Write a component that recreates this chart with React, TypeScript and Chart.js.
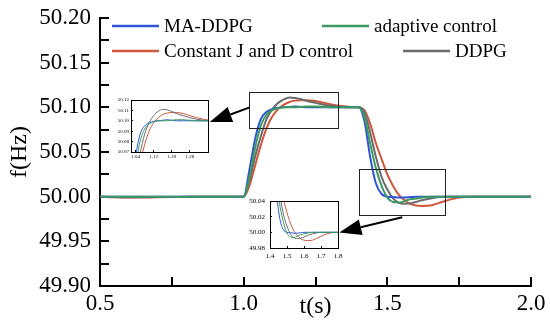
import React, { useEffect, useRef } from "react";
import { Chart, registerables } from "chart.js";

Chart.register(...registerables);

// ---------------- data ----------------
const times = [
  0.5, 0.55, 0.6, 0.7, 0.8, 0.9,
  1.0, 1.02, 1.04, 1.06, 1.08,
  1.10, 1.12, 1.14, 1.16, 1.18,
  1.20, 1.22, 1.25, 1.28, 1.31,
  1.34, 1.37, 1.40, 1.42, 1.44,
  1.46, 1.48, 1.50, 1.52, 1.54,
  1.56, 1.58, 1.60, 1.62, 1.65,
  1.68, 1.71, 1.75, 1.80, 1.90,
  2.00,
];

const maDdpg = [
  50.0, 50.0, 50.0, 50.0, 50.0, 50.0,
  50.0, 50.03, 50.065, 50.087, 50.095,
  50.098, 50.0995, 50.1, 50.1005, 50.101,
  50.1005, 50.1, 50.1, 50.1, 50.1,
  50.1, 50.1, 50.1, 50.085, 50.045,
  50.015, 50.003, 50.0, 49.9995, 49.999,
  49.999, 49.9995, 50.0, 50.0, 50.0,
  50.0, 50.0, 50.0, 50.0, 50.0,
  50.0,
];

const adaptiveControl = [
  50.0, 50.0, 50.0, 50.0, 50.0, 50.0,
  50.0, 50.022, 50.055, 50.08, 50.092,
  50.097, 50.099, 50.1, 50.1, 50.1,
  50.1005, 50.101, 50.101, 50.1005, 50.1,
  50.1, 50.1, 50.1, 50.09, 50.06,
  50.032, 50.012, 49.999, 49.994, 49.9935,
  49.995, 49.997, 49.998, 49.999, 50.0,
  50.0, 50.0, 50.0, 50.0, 50.0,
  50.0,
];

const constantJD = [
  50.0, 49.9993, 49.999, 49.9993, 49.9997, 50.0,
  50.0, 50.012, 50.035, 50.058, 50.077,
  50.09, 50.098, 50.103, 50.106, 50.1075,
  50.108, 50.108, 50.107, 50.105, 50.103,
  50.1015, 50.1005, 50.1, 50.097, 50.082,
  50.06, 50.042, 50.025, 50.012, 50.002,
  49.996, 49.992, 49.99, 49.9895, 49.99,
  49.993, 49.996, 49.999, 50.0, 50.0,
  50.0,
];

const ddpg = [
  50.0, 49.9995, 49.9993, 49.9995, 50.0, 50.0,
  50.0, 50.018, 50.045, 50.068, 50.087,
  50.098, 50.105, 50.109, 50.111, 50.1105,
  50.109, 50.107, 50.105, 50.103, 50.1015,
  50.1005, 50.1, 50.1, 50.095, 50.072,
  50.045, 50.022, 50.008, 49.998, 49.993,
  49.992, 49.9925, 49.994, 49.996, 49.998,
  49.9995, 50.0, 50.0, 50.0, 50.0,
  50.0,
];

const seriesNames = ["MA-DDPG", "adaptive control", "Constant J and D control", "DDPG"];
const seriesValues = [maDdpg, adaptiveControl, constantJD, ddpg];
const seriesColors = ["#2f54d8", "#3c9a5f", "#d0563c", "#6b6b6b"];
const seriesOrder = [1, 0, 3, 2];

// main axis ticks
const xTicks = [0.5, 0.75, 1.0, 1.25, 1.5, 1.75, 2.0];
const xLabelTicks = [0.5, 1.0, 1.5, 2.0];
const yTicks = [49.9, 49.925, 49.95, 49.975, 50.0, 50.025, 50.05, 50.075, 50.1, 50.125, 50.15, 50.175, 50.2];
const yLabelTicks = [49.9, 49.95, 50.0, 50.05, 50.1, 50.15, 50.2];

// inset axis ticks
const inset1XTicks = [1.04, 1.12, 1.2, 1.28];
const inset1YTicks = [50.07, 50.08, 50.09, 50.1, 50.11, 50.12];
const inset2XTicks = [1.4, 1.5, 1.6, 1.7, 1.8];
const inset2YTicks = [49.98, 50.0, 50.02, 50.04];

// annotation boxes / arrows (data coordinates)
const zoomBox1 = { t0: 1.017, t1: 1.33, f0: 50.077, f1: 50.117 };
const zoomBox2 = { t0: 1.4, t1: 1.7, f0: 49.979, f1: 50.031 };
const arrow1 = { tFrom: 1.021, fFrom: 50.1, tTo: 0.882, fTo: 50.0835 };
const arrow2 = { tFrom: 1.552, fFrom: 49.977, tTo: 1.333, fTo: 49.96 };

// ---------------- helpers ----------------
const FONT = "'Liberation Serif', 'Times New Roman', serif";
Chart.defaults.font.family = FONT;
Chart.defaults.color = "#000";

const inList = (v: number, list: number[]) => list.some((l) => Math.abs(l - v) < 1e-6);

function makeDatasets(lw: number) {
  return seriesNames.map((name, i) => ({
    label: name,
    data: times.map((t, k) => ({ x: t, y: seriesValues[i][k] })),
    borderColor: seriesColors[i],
    backgroundColor: seriesColors[i],
    borderWidth: lw,
    pointRadius: 0,
    fill: false,
    cubicInterpolationMode: "monotone" as const,
    order: seriesOrder[i],
  }));
}

function drawArrow(ctx: CanvasRenderingContext2D, x1: number, y1: number, x2: number, y2: number, headLen: number, headW: number) {
  const ang = Math.atan2(y2 - y1, x2 - x1);
  const bx = x2 - headLen * Math.cos(ang);
  const by = y2 - headLen * Math.sin(ang);
  ctx.beginPath();
  ctx.moveTo(x1, y1);
  ctx.lineTo(bx, by);
  ctx.lineWidth = 2;
  ctx.stroke();
  ctx.beginPath();
  ctx.moveTo(x2, y2);
  ctx.lineTo(bx + headW * Math.sin(ang), by - headW * Math.cos(ang));
  ctx.lineTo(bx - headW * Math.sin(ang), by + headW * Math.cos(ang));
  ctx.closePath();
  ctx.fill();
}

const zeroXPad = (s: any) => { s.paddingLeft = 0; s.paddingRight = 0; };
const zeroYPad = (s: any) => { s.paddingTop = 0; s.paddingBottom = 0; };

const mainOverlay = {
  id: "mainOverlay",
  afterDraw(chart: any) {
    const ctx = chart.ctx as CanvasRenderingContext2D;
    const xs = chart.scales.x;
    const ys = chart.scales.y;
    ctx.save();
    ctx.strokeStyle = "#222";
    ctx.fillStyle = "#000";
    ctx.lineWidth = 1;
    for (const b of [zoomBox1, zoomBox2]) {
      const x0 = Math.round(xs.getPixelForValue(b.t0)) + 0.5;
      const x1 = Math.round(xs.getPixelForValue(b.t1)) + 0.5;
      const y0 = Math.round(ys.getPixelForValue(b.f1)) + 0.5;
      const y1 = Math.round(ys.getPixelForValue(b.f0)) + 0.5;
      ctx.strokeRect(x0, y0, x1 - x0, y1 - y0);
    }
    ctx.strokeStyle = "#000";
    for (const a of [arrow1, arrow2]) {
      drawArrow(
        ctx,
        xs.getPixelForValue(a.tFrom), ys.getPixelForValue(a.fFrom),
        xs.getPixelForValue(a.tTo), ys.getPixelForValue(a.fTo),
        22, 8
      );
    }
    // legend
    const L = chart.chartArea.left;
    const T = chart.chartArea.top;
    const items = [
      { i: 0, x: 12, y: 8 },
      { i: 1, x: 222, y: 8 },
      { i: 2, x: 12, y: 33 },
      { i: 3, x: 303, y: 33 },
    ];
    ctx.font = `19px ${FONT}`;
    ctx.textBaseline = "middle";
    ctx.textAlign = "left";
    for (const it of items) {
      ctx.strokeStyle = seriesColors[it.i];
      ctx.lineWidth = 2.5;
      ctx.beginPath();
      ctx.moveTo(L + it.x, T + it.y);
      ctx.lineTo(L + it.x + 47, T + it.y);
      ctx.stroke();
      ctx.fillStyle = "#000";
      ctx.fillText(seriesNames[it.i], L + it.x + 52, T + it.y + 1);
    }
    ctx.restore();
  },
};

const insetFrame = {
  id: "insetFrame",
  afterDraw(chart: any) {
    const { left, right, top, bottom } = chart.chartArea;
    const ctx = chart.ctx as CanvasRenderingContext2D;
    ctx.save();
    ctx.strokeStyle = "#000";
    ctx.lineWidth = 1;
    ctx.strokeRect(Math.round(left) + 0.5, Math.round(top) + 0.5, Math.round(right - left), Math.round(bottom - top));
    ctx.restore();
  },
};

function insetConfig(opts: {
  xMin: number; xMax: number; yMin: number; yMax: number;
  xT: number[]; yT: number[]; xDigits: number;
  font: number; yWidth: number; xHeight: number; padRight: number; padTop: number;
  yPad: number; xPad: number;
}) {
  return {
    type: "line" as const,
    data: { datasets: makeDatasets(1) },
    options: {
      responsive: false,
      animation: false as const,
      devicePixelRatio: 1,
      events: [],
      layout: { padding: { left: 0, right: opts.padRight, top: opts.padTop, bottom: 0 } },
      plugins: { legend: { display: false }, tooltip: { enabled: false } },
      scales: {
        x: {
          type: "linear" as const,
          min: opts.xMin,
          max: opts.xMax,
          afterBuildTicks: (s: any) => { s.ticks = opts.xT.map((v) => ({ value: v })); },
          afterFit: (s: any) => { s.height = opts.xHeight; zeroXPad(s); },
          ticks: {
            callback: (v: any) => Number(v).toFixed(opts.xDigits),
            font: { size: opts.font },
            color: "#000",
            padding: opts.xPad,
            maxRotation: 0,
            autoSkip: false,
          },
          grid: { drawOnChartArea: false, drawTicks: true, tickLength: -2, color: "#000", lineWidth: 1 },
          border: { display: true, color: "#000", width: 1 },
        },
        y: {
          type: "linear" as const,
          min: opts.yMin,
          max: opts.yMax,
          afterBuildTicks: (s: any) => { s.ticks = opts.yT.map((v) => ({ value: v })); },
          afterFit: (s: any) => { s.width = opts.yWidth; zeroYPad(s); },
          ticks: {
            callback: (v: any) => Number(v).toFixed(2),
            font: { size: opts.font },
            color: "#000",
            padding: opts.yPad,
            autoSkip: false,
          },
          grid: { drawOnChartArea: false, drawTicks: true, tickLength: -2, color: "#000", lineWidth: 1 },
          border: { display: true, color: "#000", width: 1 },
        },
      },
    },
    plugins: [insetFrame],
  };
}

export default function App() {
  const mainRef = useRef<HTMLCanvasElement>(null);
  const in1Ref = useRef<HTMLCanvasElement>(null);
  const in2Ref = useRef<HTMLCanvasElement>(null);

  useEffect(() => {
    const main = new Chart(mainRef.current as HTMLCanvasElement, {
      type: "line",
      data: { datasets: makeDatasets(2) as any },
      options: {
        responsive: false,
        animation: false,
        devicePixelRatio: 1,
        events: [],
        layout: { padding: { left: 0, right: 19, top: 18, bottom: 0 } },
        plugins: { legend: { display: false }, tooltip: { enabled: false } },
        scales: {
          x: {
            type: "linear",
            min: 0.5,
            max: 2.0,
            afterBuildTicks: (s: any) => { s.ticks = xTicks.map((v) => ({ value: v })); },
            afterFit: (s: any) => { s.height = 41; zeroXPad(s); },
            ticks: {
              callback: (v: any) => (inList(Number(v), xLabelTicks) ? Number(v).toFixed(1) : ""),
              font: { size: 23 },
              color: "#000",
              padding: 13,
              maxRotation: 0,
              autoSkip: false,
            },
            grid: { drawOnChartArea: false, drawTicks: true, tickLength: -9, color: "#000", lineWidth: 2 },
            border: { display: true, color: "#000", width: 2 },
            title: { display: true, text: "t(s)", font: { size: 24 }, color: "#000", padding: { top: 0, bottom: 6 } },
          },
          y: {
            type: "linear",
            min: 49.9,
            max: 50.2,
            afterBuildTicks: (s: any) => { s.ticks = yTicks.map((v) => ({ value: v })); },
            afterFit: (s: any) => { s.width = 100; zeroYPad(s); },
            ticks: {
              callback: (v: any) => (inList(Number(v), yLabelTicks) ? Number(v).toFixed(2) : ""),
              font: { size: 23 },
              color: "#000",
              padding: 18,
              autoSkip: false,
            },
            grid: { drawOnChartArea: false, drawTicks: true, tickLength: -9, color: "#000", lineWidth: 2 },
            border: { display: true, color: "#000", width: 2 },
            title: { display: true, text: "f(Hz)", font: { size: 24 }, color: "#000", padding: { top: 5, bottom: 0 } },
          },
        },
      } as any,
      plugins: [mainOverlay],
    });

    const in1 = new Chart(
      in1Ref.current as HTMLCanvasElement,
      insetConfig({
        xMin: 1.02, xMax: 1.36, yMin: 50.07, yMax: 50.12,
        xT: inset1XTicks, yT: inset1YTicks, xDigits: 2,
        font: 5, yWidth: 36, xHeight: 13, padRight: 7, padTop: 7, yPad: 4, xPad: 4,
      }) as any
    );
    const in2 = new Chart(
      in2Ref.current as HTMLCanvasElement,
      insetConfig({
        xMin: 1.4, xMax: 1.8, yMin: 49.98, yMax: 50.04,
        xT: inset2XTicks, yT: inset2YTicks, xDigits: 1,
        font: 7, yWidth: 32, xHeight: 16, padRight: 8, padTop: 7, yPad: 7, xPad: 6,
      }) as any
    );

    return () => {
      main.destroy();
      in1.destroy();
      in2.destroy();
    };
  }, []);

  return (
    <div style={{ position: "absolute", left: 0, top: 0, width: 550, height: 327, background: "#fff" }}>
      <canvas ref={mainRef} width={550} height={327} style={{ position: "absolute", left: 0, top: 0 }} />
      <canvas ref={in1Ref} width={120} height={72} style={{ position: "absolute", left: 95, top: 93 }} />
      <canvas ref={in2Ref} width={108} height={70} style={{ position: "absolute", left: 238, top: 194 }} />
    </div>
  );
}
